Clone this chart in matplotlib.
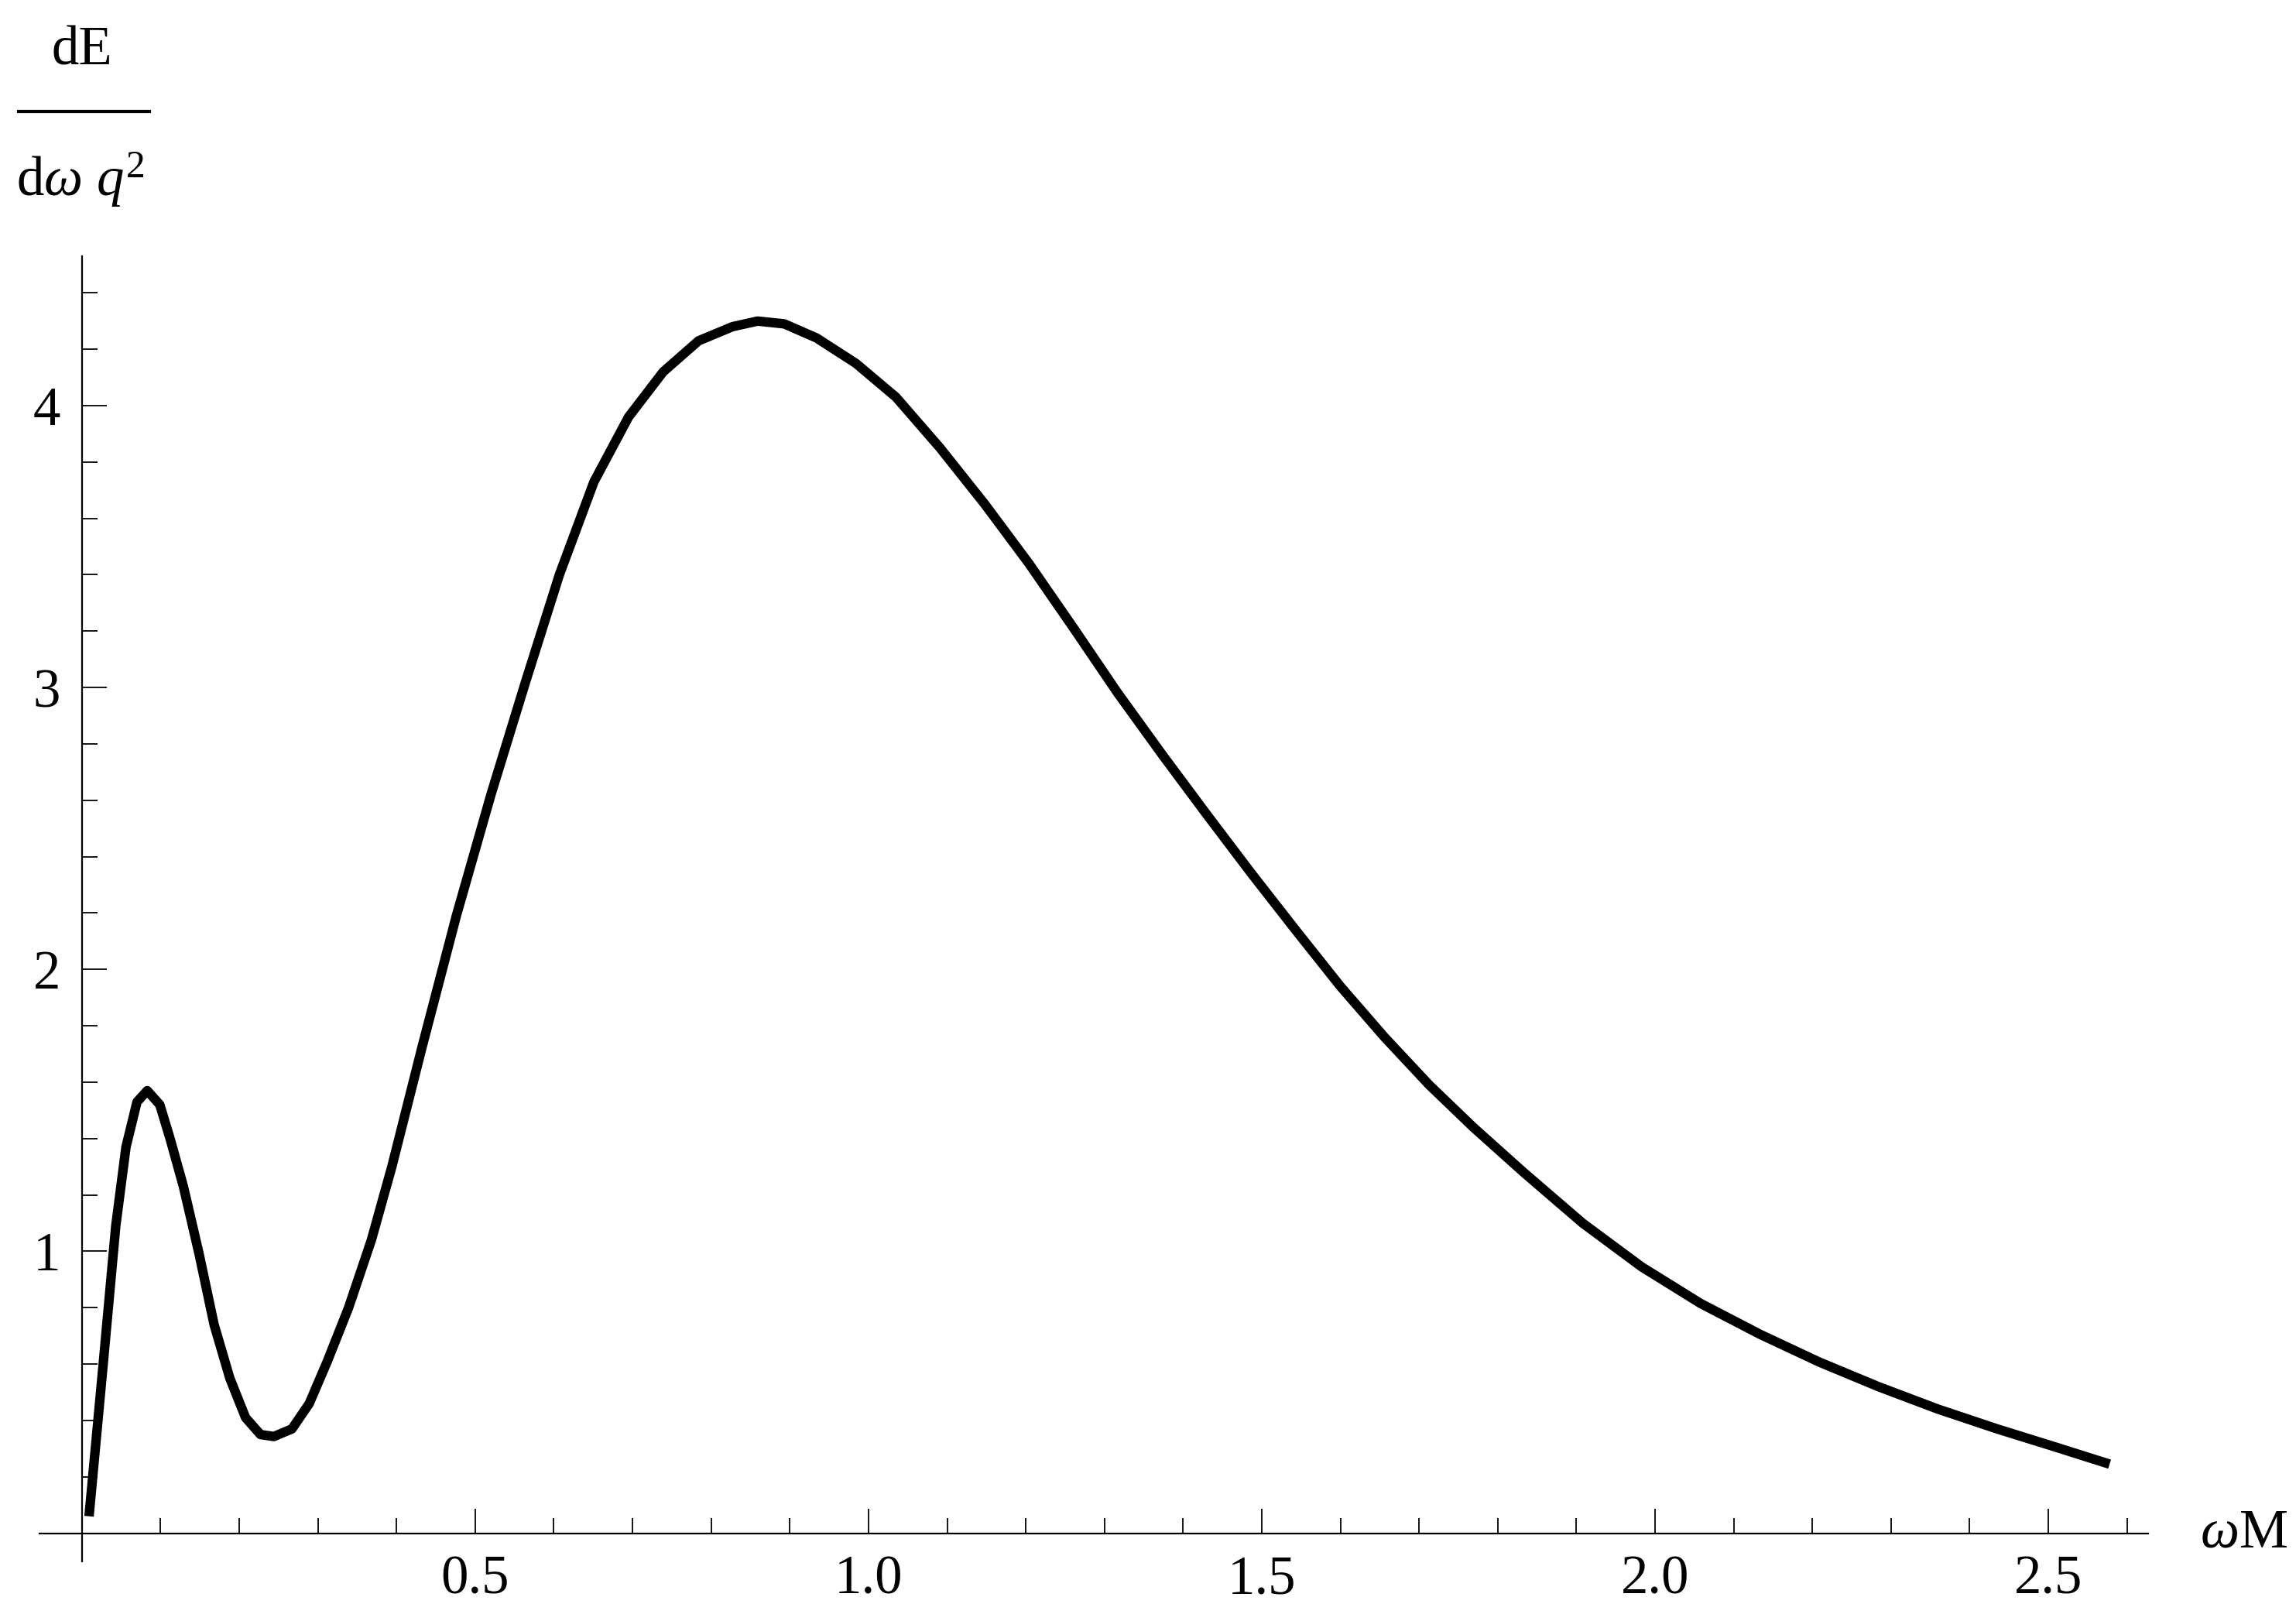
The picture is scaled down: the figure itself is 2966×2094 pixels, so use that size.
import numpy as np
import matplotlib
matplotlib.use('Agg')
import matplotlib.pyplot as plt
from matplotlib.ticker import FixedLocator
from matplotlib.lines import Line2D

plt.rcParams['font.family'] = ['Liberation Serif', 'DejaVu Serif']
plt.rcParams['mathtext.fontset'] = 'custom'
plt.rcParams['mathtext.rm'] = 'Liberation Serif'
plt.rcParams['mathtext.it'] = 'Liberation Serif:italic'

# curve: omega*M vs dE/(domega q^2)
omega_M = [0.009, 0.027, 0.043, 0.056, 0.070, 0.083, 0.099, 0.112, 0.129, 0.149,
           0.168, 0.188, 0.208, 0.227, 0.244, 0.267, 0.289, 0.312, 0.339, 0.368,
           0.394, 0.432, 0.476, 0.520, 0.564, 0.607, 0.651, 0.695, 0.739, 0.784,
           0.827, 0.859, 0.893, 0.934, 0.984, 1.035, 1.091, 1.148, 1.204, 1.261,
           1.317, 1.374, 1.430, 1.487, 1.543, 1.600, 1.656, 1.713, 1.769, 1.833,
           1.908, 1.983, 2.058, 2.134, 2.209, 2.284, 2.360, 2.435, 2.510, 2.578]
dE = [0.06, 0.60, 1.09, 1.37, 1.53, 1.57, 1.52, 1.40, 1.23, 0.99,
      0.74, 0.55, 0.41, 0.35, 0.343, 0.37, 0.46, 0.61, 0.80, 1.04,
      1.30, 1.72, 2.19, 2.62, 3.02, 3.40, 3.73, 3.96, 4.12, 4.23,
      4.28, 4.30, 4.29, 4.24, 4.15, 4.03, 3.85, 3.65, 3.44, 3.21,
      2.98, 2.76, 2.55, 2.34, 2.14, 1.94, 1.76, 1.59, 1.44, 1.28,
      1.10, 0.945, 0.815, 0.705, 0.607, 0.52, 0.44, 0.37, 0.305, 0.245]

x_major = [0.5, 1.0, 1.5, 2.0, 2.5]
x_labels = ['0.5', '1.0', '1.5', '2.0', '2.5']
y_major = [1, 2, 3, 4]
y_labels = ['1', '2', '3', '4']

W, H, dpi = 2966, 2094, 200
fig = plt.figure(figsize=(W / dpi, H / dpi), dpi=dpi)
ax = fig.add_axes([51 / W, 77 / H, 2724 / W, 1686 / H])

ax.plot(omega_M, dE, color='black', linewidth=4.4,
        solid_joinstyle='round', solid_capstyle='butt')

ax.set_xlim(-0.054, 2.627)
ax.set_ylim(-0.1, 4.53)

for s in ['top', 'right']:
    ax.spines[s].set_visible(False)
ax.spines['left'].set_position(('data', 0))
ax.spines['bottom'].set_position(('data', 0))
for s in ['left', 'bottom']:
    ax.spines[s].set_linewidth(0.8)

ax.xaxis.set_major_locator(FixedLocator(x_major))
ax.xaxis.set_minor_locator(FixedLocator([round(0.1 * i, 1) for i in range(1, 27) if i % 5]))
ax.yaxis.set_major_locator(FixedLocator(y_major))
ax.yaxis.set_minor_locator(FixedLocator([round(0.2 * i, 1) for i in range(1, 23) if i % 5]))
ax.set_xticklabels(x_labels)
ax.set_yticklabels(y_labels)

ax.tick_params(which='both', direction='in', width=0.65, labelsize=25.5)
ax.tick_params(which='major', length=11.5)
ax.tick_params(which='minor', length=7.2)
ax.tick_params(axis='x', pad=10)
ax.tick_params(axis='y', pad=10)

ax.annotate(r'$\omega$M', xy=(1, 0), xycoords=('axes fraction', 'data'),
            xytext=(24, 0), textcoords='offset points', ha='left', va='center',
            fontsize=25.5)

# y label drawn as a stacked fraction
fig.text(106 / W, 1 - 83 / H, 'dE', ha='center', va='baseline', fontsize=25.5)
fig.add_artist(Line2D([24 / W, 193 / W], [1 - 144 / H, 1 - 144 / H],
                      color='black', linewidth=1.5))
fig.text(104 / W, 1 - 253 / H, r'd$\omega$ $q^2$', ha='center', va='baseline', fontsize=25.5)

fig.savefig('out.png', dpi=dpi)
